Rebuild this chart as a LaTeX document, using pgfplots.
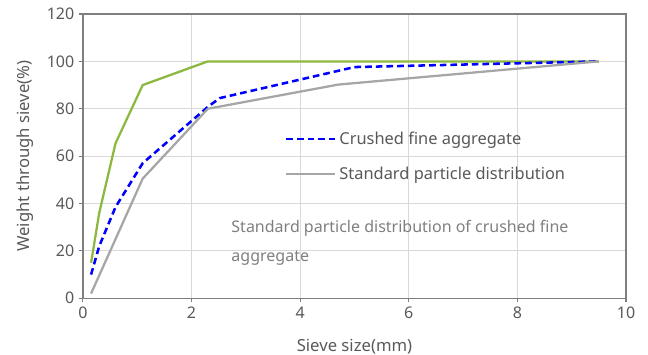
\documentclass[border=0pt]{standalone}
\usepackage{pgfplots}
\pgfplotsset{compat=1.18}
\usepackage{fontspec}
\setmainfont{Noto Sans}
\definecolor{cgreen}{HTML}{8DB83F}
\definecolor{cgray}{HTML}{A6A6A6}
\definecolor{cblue}{HTML}{0000FF}
\definecolor{ctext}{HTML}{595959}
\definecolor{cgrid}{HTML}{D9D9D9}
\definecolor{caxis}{HTML}{7F7F7F}
\begin{document}
\begin{tikzpicture}
\path[use as bounding box] (-62.2pt,-42.5pt) rectangle (423.8pt,223.7pt);
\begin{axis}[
  scale only axis,
  width=407.3pt, height=213.2pt,
  xmin=0, xmax=10, ymin=0, ymax=120,
  xtick={0,2,4,6,8,10}, ytick={0,20,40,60,80,100,120},
  grid=major,
  major grid style={cgrid, line width=0.8pt},
  axis line style={caxis, line width=1pt},
  tick style={caxis, line width=0.8pt},
  tick align=outside, major tick length=3pt,
  xtick pos=bottom, ytick pos=left,
  ticklabel style={font=\fontsize{12}{14}\selectfont, text=ctext},
  /pgf/number format/assume math mode=true,
  xlabel={Sieve size(mm)}, ylabel={Weight through sieve(\%)},
  label style={font=\fontsize{12.5}{15}\selectfont, text=ctext},
  xlabel style={yshift=-8.5pt},
  ylabel style={yshift=3pt},
  legend style={draw=none, fill=none, at={(axis cs:3.72,71.5)}, anchor=north west,
    font=\fontsize{12.3}{14}\selectfont, text=ctext, row sep=11.5pt, inner sep=0pt},
  legend cell align=left,
  legend image code/.code={\draw[#1] (0pt,0pt) -- (36.75pt,0pt);},
]
\addplot[cgreen, line width=1.7pt, forget plot] coordinates {
  (0.15,15) (0.3,36) (0.6,65.4) (1.1,90) (2.3,100) (4.75,100) (9.5,100)};
\addplot[cblue, line width=1.9pt, dash pattern=on 5pt off 3pt] coordinates {
  (0.15,10) (0.3,22) (0.6,38.5) (1.1,57) (2.3,80.8) (2.52,84.5) (5,97.6) (9.5,100)};
\addlegendentry{Crushed fine aggregate}
\addplot[cgray, line width=1.7pt] coordinates {
  (0.15,2) (1.1,50.5) (2.3,80) (4.7,90.2) (9.5,100)};
\addlegendentry{Standard particle distribution}
\node[anchor=west, align=left, text=caxis, font=\fontsize{12}{21.75}\selectfont, inner sep=0pt]
  at (axis cs:2.73,23.6) {Standard particle distribution of crushed fine\\aggregate};
\end{axis}
\end{tikzpicture}
\end{document}
